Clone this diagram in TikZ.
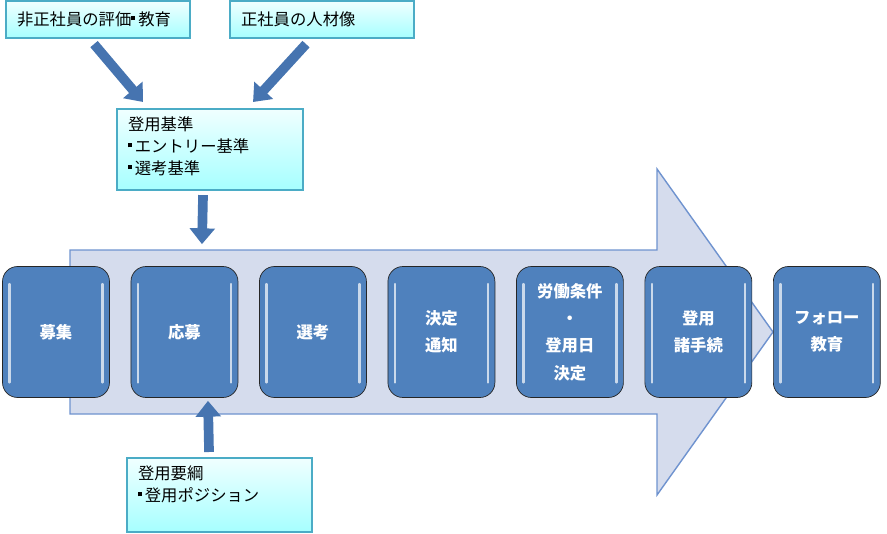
\documentclass[tikz,border=0pt]{standalone}
\usepackage{fontspec}
\usepackage{tikz}
\usetikzlibrary{arrows.meta,positioning}
\newfontfamily\jpfont{Noto Sans CJK JP}
\definecolor{stepblue}{HTML}{4F81BD}
\definecolor{bandfill}{HTML}{D5DCED}
\definecolor{bandline}{HTML}{6F93CF}
\definecolor{infoline}{HTML}{4BACC6}
\definecolor{arrowblue}{HTML}{4674B0}
\newcommand{\sqbul}{\raisebox{0.32em}{\rule{2.3pt}{2.3pt}}\hspace{1.6pt}}

\begin{document}
\begin{tikzpicture}[x=0.02cm,y=-0.02cm,node distance=2.57cm,
		step node/.style={rectangle,rounded corners=0.3cm,draw=black!85,fill=stepblue,
			minimum width=2.14cm,minimum height=2.62cm,text=white,align=center,
			font=\jpfont\bfseries\fontsize{9.3}{15.5}\selectfont,
			path picture={
				\draw[white!70!stepblue,line width=1.3pt,line cap=round]
				([shift={(0.14cm,-0.35cm)}]path picture bounding box.north west) --
				([shift={(0.14cm,0.3cm)}]path picture bounding box.south west);
				\draw[white!70!stepblue,line width=1.3pt,line cap=round]
				([shift={(-0.14cm,-0.35cm)}]path picture bounding box.north east) --
				([shift={(-0.14cm,0.3cm)}]path picture bounding box.south east);}},
		info box/.style={rectangle,draw=infoline,line width=1.2pt,
			top color=cyan!6,bottom color=cyan!35!white,
			anchor=north west,inner xsep=0.22cm,inner ysep=0.16cm,
			font=\jpfont\fontsize{9.3}{12.4}\selectfont},
		block arrow/.style={draw=arrowblue,line width=5.5pt,
			-{Triangle[width=14pt,length=9pt]}}]

		\useasboundingbox (0,0) rectangle (887,534);

		% big arrow behind the steps
		\path[fill=bandfill,draw=bandline,line width=0.8pt]
		(70,250) -- (657,250) -- (657,169) -- (773,332) -- (657,495) -- (657,414) -- (70,414) -- cycle;

		% steps
		\node[step node] (1) at (56,332) {募集};
		\node[step node] (2) [right of=1] {応募};
		\node[step node] (3) [right of=2] {選考};
		\node[step node] (4) [right of=3] {決定\\通知};
		\node[step node] (5) [right of=4] {労働条件\\・\\登用日\\決定};
		\node[step node] (6) [right of=5] {登用\\諸手続};
		\node[step node] (7) [right of=6] {フォロー\\教育};

		% input boxes
		\node[info box,minimum width=3.68cm,minimum height=0.74cm,text width=3.24cm,
			align=left,inner ysep=0pt] (a) at (5,0) {非正社員の評価\sqbul 教育};
		\node[info box,minimum width=3.68cm,minimum height=0.74cm,text width=3.24cm,
			align=left,inner ysep=0pt] (b) at (229,0) {正社員の人材像};
		\node[info box] (c) at (116,108)
			{\begin{minipage}[t][1.30cm][t]{3.28cm}登用基準\\\sqbul エントリー基準\\\sqbul 選考基準\end{minipage}};
		\node[info box] (d) at (126,457)
			{\begin{minipage}[t][1.16cm][t]{3.26cm}登用要綱\\\sqbul 登用ポジション\end{minipage}};

		\draw[block arrow] ([shift={(-4,5)}]a.south) -- ([shift={(-67,-6)}]c.north);
		\draw[block arrow] ([shift={(-16,5)}]b.south) -- ([shift={(43,-6)}]c.north);
		\draw[block arrow] ([shift={(-7,4)}]c.south) -- ([shift={(17.5,-22)}]2.north);
		\draw[block arrow] ([shift={(-10.5,-5)}]d.north) -- ([shift={(23.5,3)}]2.south);
\end{tikzpicture}
\end{document}
